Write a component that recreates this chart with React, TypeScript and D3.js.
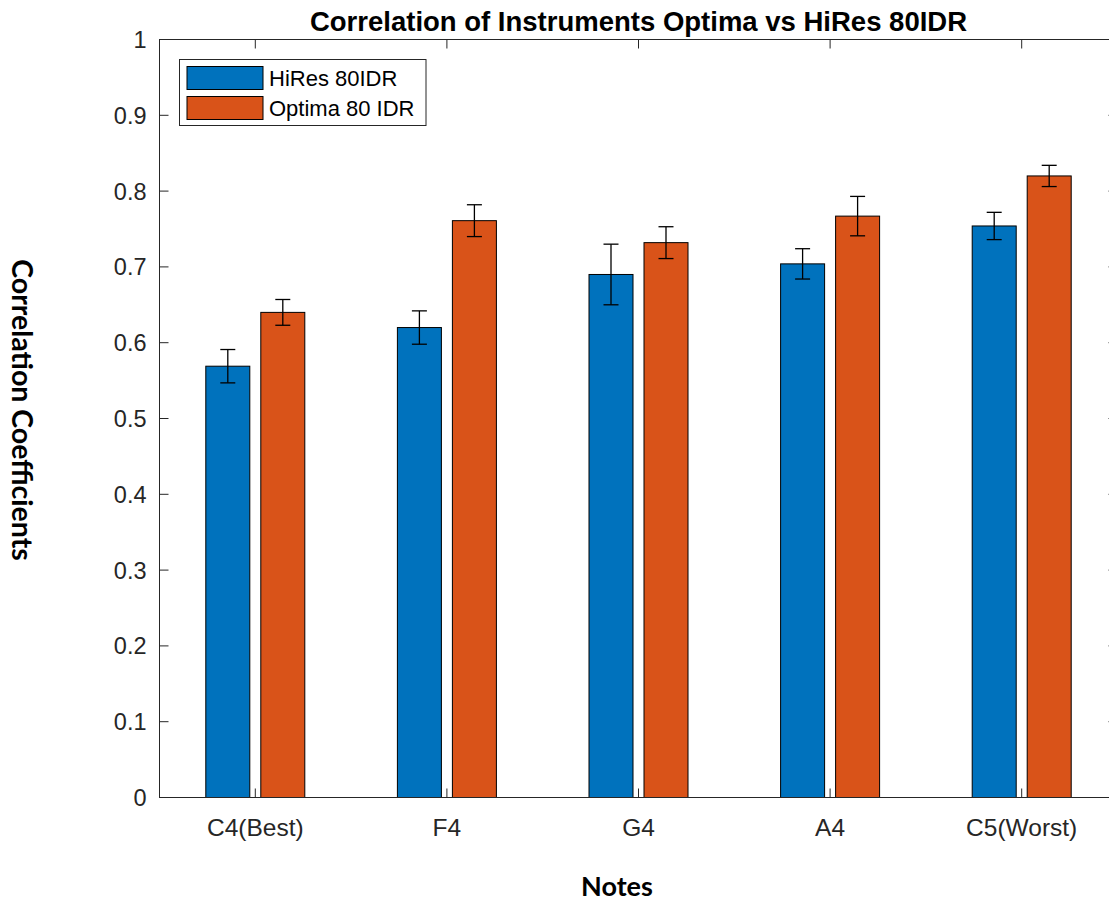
import React from "react";
import * as d3 from "d3";

const categories = ["C4(Best)", "F4", "G4", "A4", "C5(Worst)"];
const seriesNames = ["HiRes 80IDR", "Optima 80 IDR"];
const hiresValues = [0.569, 0.62, 0.69, 0.704, 0.754];
const hiresErrors = [0.022, 0.022, 0.04, 0.02, 0.018];
const optimaValues = [0.64, 0.761, 0.732, 0.767, 0.82];
const optimaErrors = [0.017, 0.021, 0.021, 0.026, 0.014];
const yTicks = [0, 0.1, 0.2, 0.3, 0.4, 0.5, 0.6, 0.7, 0.8, 0.9, 1];
const colors = ["#0072BD", "#D95319"];

const W = 1109;
const H = 902;
const left = 159.5;
const right = 1117.5;
const top = 39.5;
const bottom = 797.5;
const axisColor = "#262626";
const tickFont = "'Liberation Sans', Arial, Helvetica, sans-serif";
const labelFont = "Lato, 'Open Sans', sans-serif";

export default function App() {
  const x0 = d3.scaleBand<string>().domain(categories).range([left, right]).padding(0);
  const x1 = d3.scaleBand<string>().domain(seriesNames).range([-55, 55]).paddingInner(0.2).paddingOuter(0.1);
  const y = d3.scaleLinear().domain([0, 1]).range([bottom, top]);
  const values = [hiresValues, optimaValues];
  const errors = [hiresErrors, optimaErrors];
  const tickLen = 9;
  const capHalf = 7.5;

  return (
    <svg width={W} height={H} style={{ position: "absolute", left: 0, top: 0, background: "#fff" }}>
      <rect x={0} y={0} width={W} height={H} fill="#fff" />
      {categories.map((c, i) => {
        const cx = (x0(c) as number) + x0.bandwidth() / 2;
        return seriesNames.map((s, k) => {
          const v = values[k][i];
          const e = errors[k][i];
          const bx = cx + (x1(s) as number);
          const bw = x1.bandwidth();
          const mx = bx + bw / 2;
          return (
            <g key={c + s}>
              <rect x={bx} y={y(v)} width={bw} height={y(0) - y(v)} fill={colors[k]} stroke="#000" strokeWidth={1} />
              <line x1={mx} x2={mx} y1={y(v + e)} y2={y(v - e)} stroke="#000" strokeWidth={1.3} />
              <line x1={mx - capHalf} x2={mx + capHalf} y1={y(v + e)} y2={y(v + e)} stroke="#000" strokeWidth={1.3} />
              <line x1={mx - capHalf} x2={mx + capHalf} y1={y(v - e)} y2={y(v - e)} stroke="#000" strokeWidth={1.3} />
            </g>
          );
        });
      })}
      <rect x={left} y={top} width={right - left} height={bottom - top} fill="none" stroke={axisColor} strokeWidth={1} />
      {yTicks.map((t) => (
        <g key={"y" + t}>
          <line x1={left} x2={left + tickLen} y1={y(t)} y2={y(t)} stroke={axisColor} />
          <line x1={right} x2={right - tickLen} y1={y(t)} y2={y(t)} stroke={axisColor} />
          <text x={left - 13} y={y(t)} dy="0.36em" textAnchor="end" fontFamily={tickFont} fontSize={23.5} fill={axisColor}>
            {d3.format("~g")(t)}
          </text>
        </g>
      ))}
      {categories.map((c) => {
        const cx = (x0(c) as number) + x0.bandwidth() / 2;
        return (
          <g key={"x" + c}>
            <line x1={cx} x2={cx} y1={bottom} y2={bottom - tickLen} stroke={axisColor} />
            <line x1={cx} x2={cx} y1={top} y2={top + tickLen} stroke={axisColor} />
            <text x={cx} y={836} textAnchor="middle" fontFamily={tickFont} fontSize={24.5} fill={axisColor}>
              {c}
            </text>
          </g>
        );
      })}
      <text x={(left + right) / 2} y={31} textAnchor="middle" fontFamily={tickFont} fontWeight="bold" fontSize={27.5} fill="#000">
        Correlation of Instruments Optima vs HiRes 80IDR
      </text>
      <text x={617} y={896} textAnchor="middle" fontFamily={labelFont} fontWeight="bold" fontSize={27} fill="#000">
        Notes
      </text>
      <text transform="translate(12,410) rotate(90)" textAnchor="middle" fontFamily={labelFont} fontWeight="bold" fontSize={28.5} fill="#000">
        Correlation Coefficients
      </text>
      <g>
        <rect x={179.5} y={59.5} width={246.5} height={66} fill="#fff" stroke={axisColor} strokeWidth={1} />
        {seriesNames.map((s, k) => (
          <g key={"lg" + s}>
            <rect x={187} y={66.5 + k * 30} width={76} height={23} fill={colors[k]} stroke="#000" strokeWidth={1} />
            <text x={269} y={78 + k * 30} dy="0.36em" fontFamily={tickFont} fontSize={22} fill="#000">
              {s}
            </text>
          </g>
        ))}
      </g>
    </svg>
  );
}
